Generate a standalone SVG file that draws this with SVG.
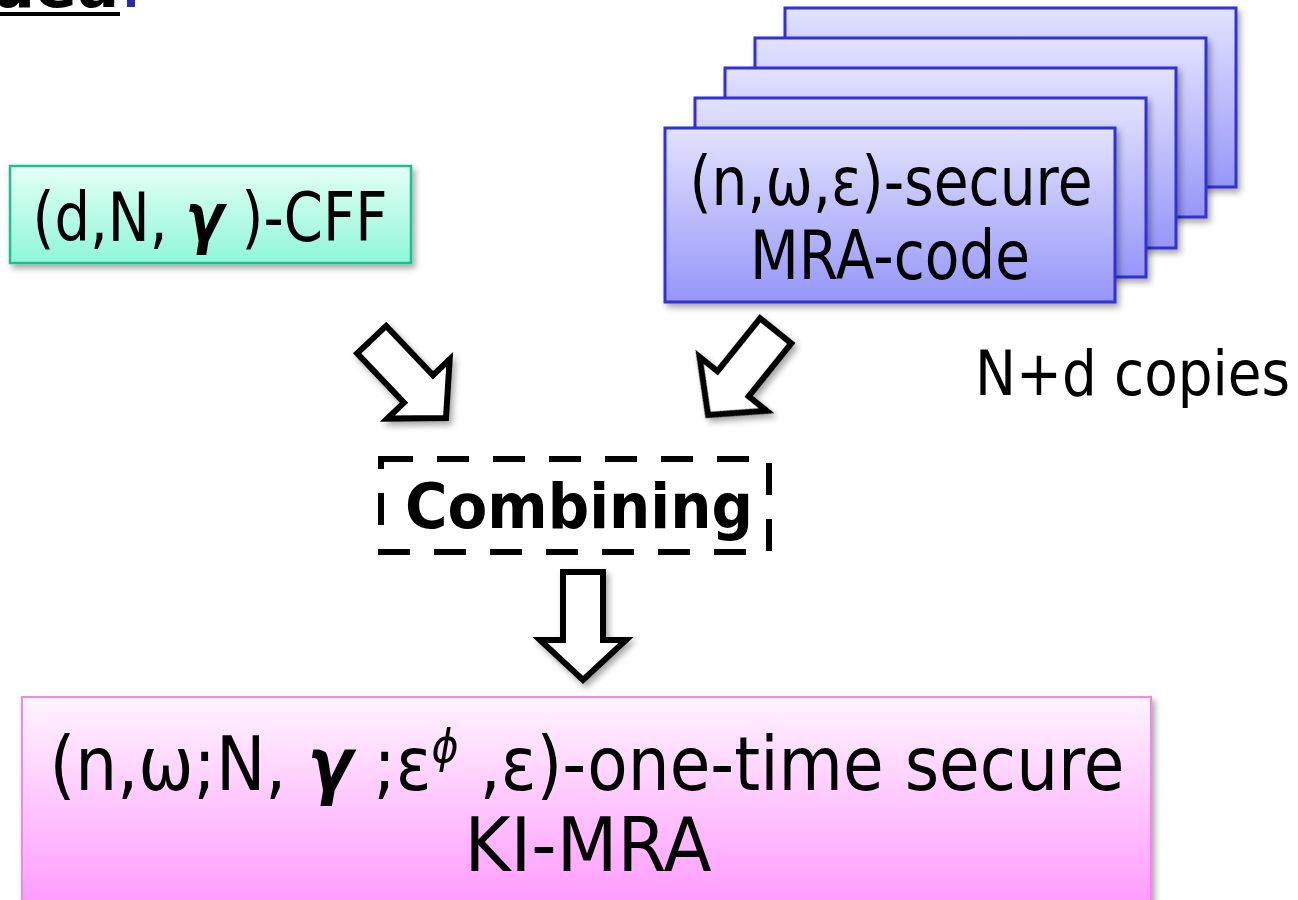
<svg xmlns="http://www.w3.org/2000/svg" width="1298" height="900" viewBox="0 0 1298 900">
<defs>
<linearGradient id="gGreen" x1="0" y1="0" x2="0" y2="1"><stop offset="0" stop-color="#e4fff6"/><stop offset="1" stop-color="#8ff7d6"/></linearGradient>
<linearGradient id="gBlue" x1="0" y1="0" x2="0" y2="1"><stop offset="0" stop-color="#e2e2ff"/><stop offset="1" stop-color="#9696f9"/></linearGradient>
<linearGradient id="gPink" x1="0" y1="0" x2="0" y2="1"><stop offset="0" stop-color="#fff4ff"/><stop offset="1" stop-color="#ff9cff"/></linearGradient>
<filter id="sh" x="-20%" y="-20%" width="140%" height="140%"><feDropShadow dx="3" dy="4" stdDeviation="3" flood-color="#000" flood-opacity="0.35"/></filter>
<polygon id="arr" points="-20,-108 20,-108 20,-40 43,-40 0,0 -43,-40 -20,-40"/>
</defs>
<style>
text{font-family:"DejaVu Sans","Liberation Sans",sans-serif;fill:#000}
.s62{font-size:62px}
.s68{font-size:68px}
.s74{font-size:74px}
.c{text-anchor:middle}
.b{font-weight:bold}
.g{font-style:italic;font-weight:bold}
.blue{fill:url(#gBlue);stroke:#3131d2;stroke-width:3}
.arrow{fill:#fff;stroke:#000;stroke-width:6;stroke-linejoin:miter}
</style>
<g id="heading">
<text x="119" y="7" text-anchor="end" class="b s62">Idea</text>
<rect x="127" y="0" width="8" height="7" fill="#2a2aa8"/>
<rect x="0" y="12" width="120" height="4" fill="#000"/>
</g>
<g id="cff" filter="url(#sh)">
<rect x="10" y="166" width="401" height="97" fill="url(#gGreen)" stroke="#1fc08e" stroke-width="2.5"/>
<text x="210" y="241" class="c s68" textLength="355" lengthAdjust="spacingAndGlyphs">(d,N, <tspan class="g">γ</tspan> )-CFF</text>
</g>
<g id="mra">
<rect x="785" y="8" width="451" height="179" class="blue" filter="url(#sh)"/>
<rect x="755" y="38" width="451" height="179" class="blue" filter="url(#sh)"/>
<rect x="725" y="68" width="451" height="180" class="blue" filter="url(#sh)"/>
<rect x="695" y="98" width="451" height="179" class="blue" filter="url(#sh)"/>
<rect x="665" y="128" width="450" height="174" class="blue" filter="url(#sh)"/>
<text x="891" y="205" class="c s68" textLength="403" lengthAdjust="spacingAndGlyphs">(n,ω,ε)-secure</text>
<text x="890" y="279" class="c s68" textLength="280" lengthAdjust="spacingAndGlyphs">MRA-code</text>
</g>
<g id="copies">
<text x="975" y="395" class="s62" textLength="315" lengthAdjust="spacingAndGlyphs">N+d copies</text>
</g>
<g id="combining">
<rect x="381" y="459" width="388" height="93" fill="none" stroke="#000" stroke-width="6" stroke-dasharray="32 24"/>
<text x="579" y="528" class="c b s62" textLength="348" lengthAdjust="spacingAndGlyphs">Combining</text>
</g>
<g id="result" filter="url(#sh)">
<rect x="22" y="697" width="1129" height="206" fill="url(#gPink)" stroke="#f088f0" stroke-width="2"/>
<text x="587" y="790" class="c s74" textLength="1075" lengthAdjust="spacingAndGlyphs">(n,ω;N, <tspan class="g">γ</tspan> ;ε<tspan style="font-size:46px;font-style:italic" dy="-28">ϕ</tspan><tspan dy="28"> ,ε)-one-time secure</tspan></text>
<text x="588" y="871" class="c s74" textLength="247" lengthAdjust="spacingAndGlyphs">KI-MRA</text>
</g>
<g id="connectors" filter="url(#sh)">
<use href="#arr" class="arrow" transform="translate(446,418) rotate(-43.5)"/>
<use href="#arr" class="arrow" transform="translate(708,415) rotate(38.8)"/>
<use href="#arr" class="arrow" transform="translate(583,680)"/>
</g>
</svg>
